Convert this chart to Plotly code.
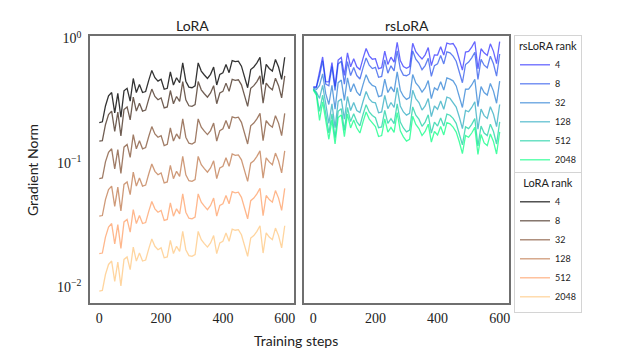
import plotly.graph_objects as go

# The page body has an 8px margin, so the figure is sized to fit inside the window
OFF = 8
W, H = 635 - 2 * OFF, 362 - 2 * OFF

steps = list(range(0, 601, 10))
ranks = [4, 8, 32, 128, 512, 2048]

lora_r4 = [0.211, 0.214, 0.287, 0.346, 0.368, 0.253, 0.362, 0.233, 0.380, 0.398,
           0.314, 0.477, 0.368, 0.427, 0.368, 0.375, 0.461, 0.554, 0.484, 0.454,
           0.470, 0.391, 0.398, 0.540, 0.423, 0.484, 0.441, 0.637, 0.454, 0.407,
           0.402, 0.416, 0.637, 0.547, 0.509, 0.477, 0.515, 0.590, 0.423, 0.515,
           0.531, 0.619, 0.531, 0.664, 0.651, 0.658, 0.599, 0.499, 0.402, 0.563,
           0.590, 0.637, 0.707, 0.427, 0.619, 0.574, 0.547, 0.678, 0.590, 0.470,
           0.707]
lora_r8 = [0.150, 0.151, 0.203, 0.245, 0.261, 0.179, 0.256, 0.165, 0.269, 0.282,
           0.222, 0.338, 0.261, 0.302, 0.261, 0.266, 0.326, 0.392, 0.342, 0.322,
           0.333, 0.277, 0.282, 0.382, 0.299, 0.342, 0.312, 0.451, 0.322, 0.288,
           0.285, 0.294, 0.451, 0.387, 0.360, 0.338, 0.365, 0.418, 0.299, 0.365,
           0.376, 0.438, 0.376, 0.470, 0.461, 0.466, 0.424, 0.354, 0.285, 0.398,
           0.418, 0.451, 0.501, 0.302, 0.438, 0.406, 0.387, 0.480, 0.418, 0.333,
           0.501]
lora_r32 = [0.0748, 0.0757, 0.102, 0.122, 0.130, 0.0896, 0.128, 0.0824, 0.134, 0.141,
            0.111, 0.169, 0.130, 0.151, 0.130, 0.133, 0.163, 0.196, 0.171, 0.161,
            0.166, 0.138, 0.141, 0.191, 0.150, 0.171, 0.156, 0.226, 0.161, 0.144,
            0.142, 0.147, 0.226, 0.194, 0.180, 0.169, 0.182, 0.209, 0.150, 0.182,
            0.188, 0.219, 0.188, 0.235, 0.230, 0.233, 0.212, 0.177, 0.142, 0.199,
            0.209, 0.226, 0.250, 0.151, 0.219, 0.203, 0.194, 0.240, 0.209, 0.166,
            0.250]
lora_r128 = [0.0374, 0.0378, 0.0508, 0.0612, 0.0652, 0.0448, 0.0640, 0.0412, 0.0672, 0.0704,
             0.0556, 0.0844, 0.0652, 0.0756, 0.0652, 0.0664, 0.0816, 0.0980, 0.0856, 0.0804,
             0.0832, 0.0692, 0.0704, 0.0956, 0.0748, 0.0856, 0.0780, 0.113, 0.0804, 0.0720,
             0.0712, 0.0736, 0.113, 0.0968, 0.0900, 0.0844, 0.0912, 0.104, 0.0748, 0.0912,
             0.0940, 0.110, 0.0940, 0.118, 0.115, 0.116, 0.106, 0.0884, 0.0712, 0.0996,
             0.104, 0.113, 0.125, 0.0756, 0.110, 0.102, 0.0968, 0.120, 0.104, 0.0832,
             0.125]
lora_r512 = [0.0187, 0.0189, 0.0254, 0.0306, 0.0326, 0.0224, 0.0320, 0.0206, 0.0336, 0.0352,
             0.0278, 0.0422, 0.0326, 0.0378, 0.0326, 0.0332, 0.0408, 0.0490, 0.0428, 0.0402,
             0.0416, 0.0346, 0.0352, 0.0478, 0.0374, 0.0428, 0.0390, 0.0564, 0.0402, 0.0360,
             0.0356, 0.0368, 0.0564, 0.0484, 0.0450, 0.0422, 0.0456, 0.0522, 0.0374, 0.0456,
             0.0470, 0.0548, 0.0470, 0.0588, 0.0576, 0.0582, 0.0530, 0.0442, 0.0356, 0.0498,
             0.0522, 0.0564, 0.0626, 0.0378, 0.0548, 0.0508, 0.0484, 0.0600, 0.0522, 0.0416,
             0.0626]
lora_r2048 = [0.00935, 0.00946, 0.0127, 0.0153, 0.0163, 0.0112, 0.0160, 0.0103, 0.0168, 0.0176,
              0.0139, 0.0211, 0.0163, 0.0189, 0.0163, 0.0166, 0.0204, 0.0245, 0.0214, 0.0201,
              0.0208, 0.0173, 0.0176, 0.0239, 0.0187, 0.0214, 0.0195, 0.0282, 0.0201, 0.0180,
              0.0178, 0.0184, 0.0282, 0.0242, 0.0225, 0.0211, 0.0228, 0.0261, 0.0187, 0.0228,
              0.0235, 0.0274, 0.0235, 0.0294, 0.0288, 0.0291, 0.0265, 0.0221, 0.0178, 0.0249,
              0.0261, 0.0282, 0.0313, 0.0189, 0.0274, 0.0254, 0.0242, 0.0300, 0.0261, 0.0208,
              0.0313]

rs_r4 = [0.408, 0.41, 0.54, 0.71, 0.45, 0.448, 0.640, 0.412, 0.672, 0.704,
         0.505, 0.766, 0.592, 0.686, 0.592, 0.563, 0.692, 0.831, 0.725, 0.681,
         0.688, 0.573, 0.583, 0.791, 0.619, 0.708, 0.645, 0.933, 0.665, 0.596,
         0.577, 0.596, 0.914, 0.784, 0.729, 0.684, 0.739, 0.846, 0.606, 0.739,
         0.736, 0.858, 0.736, 0.920, 0.901, 0.911, 0.829, 0.692, 0.557, 0.779,
         0.788, 0.852, 0.945, 0.571, 0.827, 0.767, 0.731, 0.906, 0.788, 0.628,
         0.945]
rs_r8 = [0.405, 0.405, 0.50, 0.66, 0.43, 0.417, 0.595, 0.383, 0.625, 0.655,
         0.430, 0.652, 0.504, 0.584, 0.504, 0.473, 0.581, 0.698, 0.610, 0.573,
         0.587, 0.488, 0.496, 0.674, 0.527, 0.603, 0.550, 0.795, 0.567, 0.508,
         0.502, 0.519, 0.795, 0.682, 0.635, 0.561, 0.606, 0.694, 0.497, 0.606,
         0.625, 0.729, 0.625, 0.782, 0.766, 0.722, 0.657, 0.548, 0.441, 0.618,
         0.647, 0.699, 0.776, 0.469, 0.680, 0.610, 0.581, 0.720, 0.626, 0.499,
         0.751]
rs_r32 = [0.40, 0.39, 0.42, 0.52, 0.36, 0.295, 0.421, 0.271, 0.442, 0.463,
          0.318, 0.483, 0.373, 0.433, 0.373, 0.347, 0.426, 0.512, 0.447, 0.420,
          0.410, 0.341, 0.347, 0.471, 0.368, 0.409, 0.372, 0.539, 0.384, 0.344,
          0.324, 0.335, 0.513, 0.440, 0.410, 0.371, 0.401, 0.459, 0.329, 0.401,
          0.385, 0.449, 0.385, 0.482, 0.472, 0.457, 0.416, 0.347, 0.279, 0.391,
          0.392, 0.423, 0.470, 0.284, 0.411, 0.368, 0.351, 0.435, 0.378, 0.302,
          0.454]
rs_r128 = [0.395, 0.37, 0.33, 0.42, 0.30, 0.208, 0.298, 0.192, 0.312, 0.327,
           0.225, 0.342, 0.264, 0.306, 0.264, 0.254, 0.312, 0.375, 0.327, 0.308,
           0.304, 0.253, 0.257, 0.349, 0.273, 0.306, 0.279, 0.403, 0.287, 0.257,
           0.242, 0.250, 0.384, 0.329, 0.306, 0.266, 0.287, 0.329, 0.236, 0.287,
           0.270, 0.315, 0.270, 0.338, 0.331, 0.308, 0.281, 0.234, 0.189, 0.264,
           0.258, 0.279, 0.310, 0.187, 0.271, 0.240, 0.228, 0.283, 0.246, 0.196,
           0.295]
rs_r512 = [0.39, 0.36, 0.26, 0.35, 0.25, 0.174, 0.248, 0.160, 0.260, 0.273,
           0.183, 0.279, 0.215, 0.249, 0.215, 0.199, 0.245, 0.294, 0.257, 0.241,
           0.231, 0.192, 0.195, 0.265, 0.208, 0.227, 0.207, 0.299, 0.213, 0.191,
           0.178, 0.184, 0.282, 0.242, 0.225, 0.197, 0.213, 0.244, 0.174, 0.213,
           0.198, 0.230, 0.198, 0.247, 0.242, 0.228, 0.208, 0.173, 0.140, 0.195,
           0.189, 0.204, 0.227, 0.137, 0.198, 0.174, 0.166, 0.205, 0.179, 0.142,
           0.214]
rs_r2048 = [0.385, 0.35, 0.22, 0.31, 0.22, 0.155, 0.221, 0.142, 0.232, 0.243,
            0.163, 0.247, 0.191, 0.221, 0.191, 0.174, 0.214, 0.257, 0.225, 0.211,
            0.196, 0.163, 0.166, 0.226, 0.177, 0.193, 0.176, 0.254, 0.181, 0.162,
            0.150, 0.155, 0.237, 0.204, 0.189, 0.166, 0.179, 0.205, 0.147, 0.179,
            0.168, 0.196, 0.168, 0.211, 0.206, 0.194, 0.177, 0.148, 0.119, 0.166,
            0.161, 0.174, 0.193, 0.117, 0.169, 0.145, 0.138, 0.171, 0.149, 0.118,
            0.178]

lora_series = [lora_r4, lora_r8, lora_r32, lora_r128, lora_r512, lora_r2048]
rs_series = [rs_r4, rs_r8, rs_r32, rs_r128, rs_r512, rs_r2048]

lora_colors = ["rgba(0,0,0,0.8)", "rgba(64,40,25,0.75)", "rgba(128,80,51,0.75)",
               "rgba(191,120,76,0.75)", "rgba(255,159,102,0.75)", "rgba(255,199,127,0.75)"]
rs_colors = ["rgba(0,0,255,0.6)", "rgba(0,51,230,0.62)", "rgba(0,102,204,0.62)",
             "rgba(0,153,179,0.62)", "rgba(0,204,153,0.68)", "rgba(0,255,128,0.72)"]

fig = go.Figure()

for r, ys, c in zip(ranks, rs_series, rs_colors):
    fig.add_trace(go.Scatter(x=steps, y=ys, mode="lines", name=str(r),
                             line=dict(color=c, width=1.3),
                             xaxis="x2", yaxis="y2", legend="legend"))
for r, ys, c in zip(ranks, lora_series, lora_colors):
    fig.add_trace(go.Scatter(x=steps, y=ys, mode="lines", name=str(r),
                             line=dict(color=c, width=1.3),
                             xaxis="x", yaxis="y", legend="legend2"))

def px(x):
    return (x - OFF) / W

def py(y):
    return 1 - (y - OFF) / H

frame = dict(showline=True, linecolor="#6f6f6f", linewidth=1.5, mirror=True,
             showgrid=False, zeroline=False)
tickfont = dict(family="Liberation Serif", size=14, color="#222")

xcommon = dict(range=[-30, 630], tickvals=[0, 200, 400, 600], ticks="",
               tickfont=tickfont, ticklabelstandoff=1, **frame)
ycommon = dict(type="log", range=[-2.125, 0.02], ticks="", **frame)

legend_common = dict(xanchor="left", yanchor="top",
                     bgcolor="white", bordercolor="#d4d4d4", borderwidth=1,
                     font=dict(family="Lato", size=9, color="#222"),
                     tracegroupgap=0, itemwidth=30)

def label(text, x, y, angle=0):
    return dict(text=text, x=px(x), y=py(y), xref="paper", yref="paper",
                xanchor="center", yanchor="middle", showarrow=False, textangle=angle,
                font=dict(family="Lato", size=14, color="#222"))

fig.update_layout(
    width=W, height=H,
    margin=dict(l=0, r=0, t=0, b=0, pad=0, autoexpand=False),
    paper_bgcolor="white", plot_bgcolor="white",
    xaxis=dict(domain=[px(90), px(294)], anchor="y", **xcommon),
    yaxis=dict(domain=[py(303), py(36)], anchor="x",
               tickvals=[0.01, 0.1, 1],
               ticktext=["10<sup>\u22122</sup>", "10<sup>\u22121</sup>", "10<sup>0</sup>"],
               tickfont=tickfont, ticklabelstandoff=4, **ycommon),
    xaxis2=dict(domain=[px(304), px(509)], anchor="y2", **xcommon),
    yaxis2=dict(domain=[py(303), py(36)], anchor="x2", showticklabels=False, **ycommon),
    legend=dict(x=px(514), y=py(35),
                title=dict(text="rsLoRA rank", side="top center",
                           font=dict(family="Lato", size=11, color="#222")),
                **legend_common),
    legend2=dict(x=px(514), y=py(172),
                 title=dict(text="LoRA rank", side="top center",
                            font=dict(family="Lato", size=11, color="#222")),
                 **legend_common),
    annotations=[
        label("LoRA", 192, 25),
        label("rsLoRA", 407, 25),
        label("Training steps", 296, 340),
        label("Gradient Norm", 32, 170, -90),
    ],
)

fig.write_html("out.html")
